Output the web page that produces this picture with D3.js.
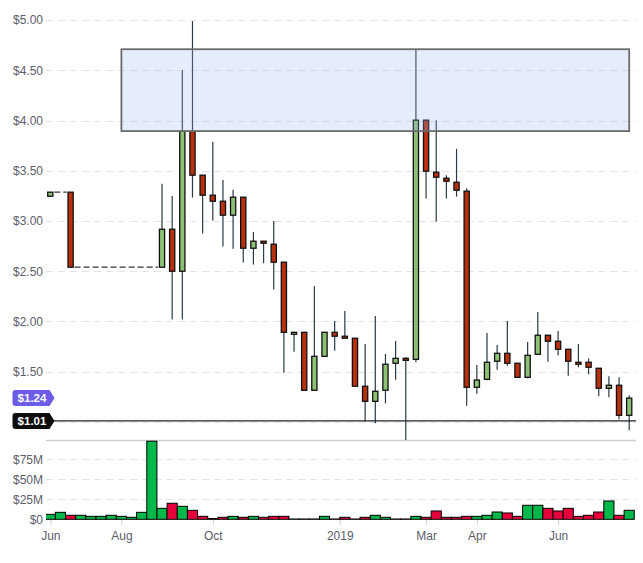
<!DOCTYPE html>
<html>
<head>
<meta charset="utf-8">
<script src="https://cdnjs.cloudflare.com/ajax/libs/d3/7.8.5/d3.min.js"></script>
<style>
  body { margin: 0; background: #fff; }
  .chart text { font-family: "Liberation Sans", Arial, sans-serif; }
</style>
</head>
<body>
<div class="chart"></div>
<script>
// weekly candles, index 0..57 (null = no trade that week)
var opens  = [3.247, null, 3.287, null, null, null, null, null, null, null, null, 2.54, 2.918, 2.50, 3.894, 3.456, 3.257, 3.197, 3.058, 3.237,
              2.729, 2.799, 2.769, 2.59, 1.873, 1.892, 1.315, 1.653, 1.892, 1.853, 1.833, 1.355, 1.205, 1.315, 1.584, 1.633, 1.623, 4.004, 3.486, 3.426,
              3.386, 3.297, 1.345, 1.424, 1.604, 1.683, 1.584, 1.444, 1.673, 1.863, 1.803, 1.723, 1.594, 1.594, 1.534, 1.335, 1.365, 1.066];
var highs  = [3.287, null, 3.287, null, null, null, null, null, null, null, null, 3.37, 3.25, 4.50, 4.99, 3.456, 3.788, 3.409, 3.31, 3.237,
              2.891, 2.799, 3.001, 2.59, 1.892, 1.892, 2.354, 1.892, 2.005, 2.105, 1.833, 1.776, 2.055, 1.676, 1.806, 1.643, 4.71, 4.004, 4.004, 3.456,
              3.718, 3.327, 1.567, 1.885, 1.766, 2.005, 1.584, 1.796, 2.095, 1.863, 1.905, 1.723, 1.776, 1.633, 1.534, 1.454, 1.444, 1.265];
var lows   = [3.247, null, 2.535, null, null, null, null, null, null, null, null, 2.54, 2.02, 2.02, 3.233, 2.875, 3.004, 2.745, 2.725, 2.586,
              2.566, 2.58, 2.317, 1.49, 1.699, 1.315, 1.315, 1.653, 1.709, 1.833, 1.355, 1.002, 0.986, 1.185, 1.42, 0.80, 1.594, 3.223, 2.994, 3.223,
              3.243, 1.161, 1.281, 1.414, 1.52, 1.56, 1.444, 1.434, 1.673, 1.60, 1.66, 1.46, 1.544, 1.474, 1.255, 1.245, 1.026, 0.916];
var closes = [3.287, null, 2.54, null, null, null, null, null, null, null, null, 2.918, 2.50, 3.894, 3.456, 3.257, 3.197, 3.058, 3.237, 2.729,
              2.799, 2.779, 2.59, 1.892, 1.892, 1.315, 1.653, 1.892, 1.853, 1.833, 1.355, 1.205, 1.305, 1.574, 1.633, 1.613, 4.004, 3.496, 3.436, 3.396,
              3.307, 1.345, 1.417, 1.594, 1.683, 1.584, 1.444, 1.663, 1.863, 1.803, 1.723, 1.604, 1.574, 1.544, 1.335, 1.365, 1.066, 1.237];
// weekly volume, millions of $
var volumes = [6.2, 8.7, 5, 5, 3.7, 3.7, 5, 3.7, 2.5, 8.7, 97.5, 13.7, 20, 16.2, 11.2, 3.7, 1, 2.5, 3.7, 2.5,
               3.7, 2.5, 3.7, 3.7, 0.4, 0.4, 0.4, 3.7, 0.4, 2.5, 0.4, 2.5, 5, 2.5, 0.4, 0.4, 3.7, 2.5, 10.4, 2.5,
               2.5, 3.7, 3.7, 5, 9.1, 7.9, 3.7, 17.5, 17.5, 13.7, 10.4, 13.7, 3.7, 5, 9.1, 22.9, 5, 11.2];

var tickIdx    = [0, 7, 16, 28.5, 37, 42, 50];
var tickLabels = ["Jun", "Aug", "Oct", "2019", "Mar", "Apr", "Jun"];
var priceGrid  = [1, 1.5, 2, 2.5, 3, 3.5, 4, 4.5, 5];
var priceTicks = [1.5, 2, 2.5, 3, 3.5, 4, 4.5, 5];
var volTicks   = [0, 25, 50, 75];

// drawn zone: from week 7 to week 57, $3.895 to $4.71
var zone = {from: 7, to: 57, low: 3.895, high: 4.71};
var markerPrice = 1.01;

var width = 643, height = 563;
var left = 46, right = 636;

var svg = d3.select(".chart").append("svg")
    .attr("width", width)
    .attr("height", height);

var x = d3.scaleLinear().domain([0, 57]).range([50.3, 629.2]);
var yP = d3.scaleLinear().domain([0.82, 5.2]).range([440, 0]);
var yV = d3.scaleLinear().domain([0, 99]).range([519.3, 440]);

var data = closes.map(function(c, i) {
  return {i: i, o: opens[i], h: highs[i], l: lows[i], c: c, v: volumes[i]};
});
var candles = data.filter(function(d) { return d.c != null; });

var defs = svg.append("defs");
defs.append("clipPath").attr("id", "clipP")
  .append("rect").attr("x", left).attr("y", 0).attr("width", right - left).attr("height", 440);
defs.append("clipPath").attr("id", "clipV")
  .append("rect").attr("x", left).attr("y", 440).attr("width", right - left).attr("height", 81);

// grid lines
svg.append("g").selectAll("line")
    .data(priceGrid)
  .enter().append("line")
    .attr("x1", left).attr("x2", right)
    .attr("y1", function(d) { return Math.round(yP(d)) + 0.5; })
    .attr("y2", function(d) { return Math.round(yP(d)) + 0.5; })
    .attr("stroke", "#e3e3ea")
    .attr("stroke-dasharray", "7,5");

svg.append("g").selectAll("line")
    .data(volTicks.slice(1))
  .enter().append("line")
    .attr("x1", left).attr("x2", right)
    .attr("y1", function(d) { return Math.round(yV(d)) + 0.5; })
    .attr("y2", function(d) { return Math.round(yV(d)) + 0.5; })
    .attr("stroke", "#e3e3ea")
    .attr("stroke-dasharray", "7,5");

svg.append("line")
    .attr("x1", left).attr("x2", right)
    .attr("y1", 440.5).attr("y2", 440.5)
    .attr("stroke", "#cfcfcf")
    .attr("stroke-width", 1.5);

// axes
var yAxis = d3.axisLeft(yP).tickValues(priceTicks).tickFormat(d3.format("$.2f")).tickSize(0).tickPadding(3);
svg.append("g")
    .attr("transform", "translate(" + left + ",0)")
    .call(yAxis)
    .call(function(g) { g.select(".domain").remove(); })
    .selectAll("text").attr("font-size", 12).attr("fill", "#5d5d6b");

var vAxis = d3.axisLeft(yV).tickValues(volTicks)
    .tickFormat(function(d) { return d === 0 ? "$0" : "$" + d + "M"; })
    .tickSize(0).tickPadding(3);
svg.append("g")
    .attr("transform", "translate(" + left + ",0)")
    .call(vAxis)
    .call(function(g) { g.select(".domain").remove(); })
    .selectAll("text").attr("font-size", 12).attr("fill", "#5d5d6b");

var xAxis = d3.axisBottom(x).tickValues(tickIdx)
    .tickFormat(function(d, i) { return tickLabels[i]; })
    .tickSize(5).tickPadding(6);
var xg = svg.append("g")
    .attr("transform", "translate(0,520)")
    .call(xAxis)
    .call(function(g) { g.select(".domain").remove(); });
xg.selectAll("line").attr("stroke", "#d0d0d0");
xg.selectAll("text").attr("font-size", 12).attr("fill", "#5d5d6b");

// volume bars
var bw = x(1) - x(0);
svg.append("g").attr("clip-path", "url(#clipV)")
  .selectAll("rect")
    .data(data)
  .enter().append("rect")
    .attr("x", function(d) { return x(d.i) - bw / 2; })
    .attr("width", bw)
    .attr("y", function(d) { return yV(d.v); })
    .attr("height", function(d) { return yV(0) - yV(d.v); })
    .attr("fill", function(d) { return (d.c != null && d.c < d.o) ? "#e8003d" : "#00b84a"; })
    .attr("stroke", "#000")
    .attr("stroke-width", 1);

var price = svg.append("g").attr("clip-path", "url(#clipP)");

// dashed connectors over the empty weeks
var gaps = [];
for (var k = 1; k < candles.length; k++) {
  if (candles[k].i - candles[k - 1].i > 1) gaps.push([candles[k - 1], candles[k]]);
}
price.selectAll(".gap")
    .data(gaps)
  .enter().append("line")
    .attr("class", "gap")
    .attr("x1", function(d) { return x(d[0].i) + 4; })
    .attr("x2", function(d) { return x(d[1].i) - 4; })
    .attr("y1", function(d) { return yP(d[0].c); })
    .attr("y2", function(d) { return yP(d[1].o); })
    .attr("stroke", "#333")
    .attr("stroke-width", 1.3)
    .attr("stroke-dasharray", "6,3");

// candles
price.selectAll(".wick")
    .data(candles)
  .enter().append("line")
    .attr("class", "wick")
    .attr("x1", function(d) { return x(d.i); })
    .attr("x2", function(d) { return x(d.i); })
    .attr("y1", function(d) { return yP(d.h); })
    .attr("y2", function(d) { return yP(d.l); })
    .attr("stroke", "#2b3a44")
    .attr("stroke-width", 1.2);

price.selectAll(".body")
    .data(candles)
  .enter().append("rect")
    .attr("class", "body")
    .attr("x", function(d) { return x(d.i) - 2.6; })
    .attr("width", 5.2)
    .attr("y", function(d) { return yP(Math.max(d.o, d.c)); })
    .attr("height", function(d) { return Math.max(1, Math.abs(yP(d.o) - yP(d.c))); })
    .attr("fill", function(d) { return d.c >= d.o ? "#8bc075" : "#b9300f"; })
    .attr("stroke", "#111")
    .attr("stroke-width", 1.3);

// zone rectangle
svg.append("rect")
    .attr("x", x(zone.from))
    .attr("y", yP(zone.high))
    .attr("width", x(zone.to) - x(zone.from))
    .attr("height", yP(zone.low) - yP(zone.high))
    .attr("fill", "rgb(150,180,240)")
    .attr("fill-opacity", 0.25)
    .attr("stroke", "#6b6b6b")
    .attr("stroke-width", 1.8);

// marker line
svg.append("line")
    .attr("x1", 54).attr("x2", right)
    .attr("y1", yP(markerPrice)).attr("y2", yP(markerPrice))
    .attr("stroke", "#222")
    .attr("stroke-width", 1.2);

function tag(yc, color, label) {
  var x0 = 12.5, x1 = 49.5, tip = 54.5, h = 8, r = 3;
  svg.append("path")
      .attr("d", "M" + (x0 + r) + "," + (yc - h) + "H" + x1 + "L" + tip + "," + yc + "L" + x1 + "," + (yc + h) +
                 "H" + (x0 + r) + "Q" + x0 + "," + (yc + h) + " " + x0 + "," + (yc + h - r) +
                 "V" + (yc - h + r) + "Q" + x0 + "," + (yc - h) + " " + (x0 + r) + "," + (yc - h) + "Z")
      .attr("fill", color);
  svg.append("text")
      .attr("x", 32).attr("y", yc)
      .attr("dy", "0.36em")
      .attr("text-anchor", "middle")
      .attr("font-size", 11.5)
      .attr("font-weight", "bold")
      .attr("fill", "#fff")
      .text(label);
}

var lastClose = closes[closes.length - 1];
tag(yP(lastClose), "#6c5ce7", d3.format("$.2f")(lastClose));
tag(yP(markerPrice), "#0d0d0d", d3.format("$.2f")(markerPrice));
</script>
</body>
</html>
